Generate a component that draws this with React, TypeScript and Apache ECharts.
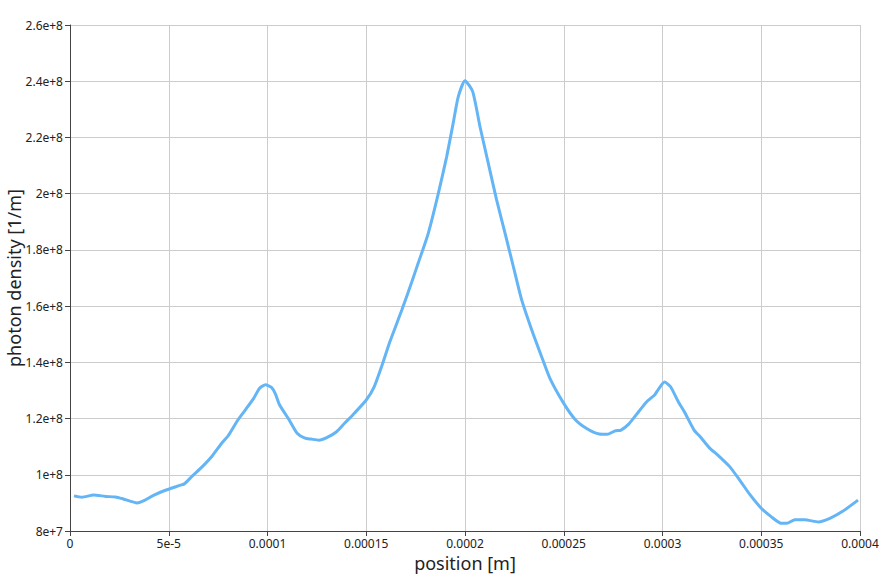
import React, { useEffect, useRef } from "react";
import * as echarts from "echarts";

// position along the sample, in micrometres (converted to metres below)
const positionsUm = [
  2, 6, 12, 18, 23, 27, 34, 38, 42, 48, 56, 58, 62, 67, 72, 77, 80, 85, 89, 93,
  96, 99, 102, 104, 106, 111, 115, 119, 122, 126, 130, 135, 139, 144, 150, 154,
  158, 162, 168, 173, 176.4, 181.4, 186.5, 190.7, 194, 196.6, 200, 203.9,
  207.6, 211.8, 216, 220.3, 224.5, 228.7, 233.8, 238.8, 243, 250, 256, 262, 268,
  272, 276, 279, 283, 288, 292, 296, 298, 301, 304, 308, 311, 316, 319, 324, 328,
  334, 339, 344, 350, 355, 360, 363, 367, 372, 379, 385, 391, 399,
];

// photon density in units of 1e6 1/m
const densityE6 = [
  92.5, 92.0, 92.8, 92.3, 92.1, 91.4, 90.0, 91.0, 92.6, 94.4, 96.3, 96.8, 99.6,
  102.9, 106.7, 111.4, 113.8, 119.5, 123.3, 127.2, 130.8, 132.0, 131.1, 128.8,
  125.0, 119.5, 114.8, 113.0, 112.7, 112.3, 113.2, 115.3, 118.3, 121.9, 126.6,
  131.3, 139.0, 147.4, 158.6, 168.5, 175.5, 185.9, 200.1, 213.1, 225.0,
  234.5, 240.2, 236.3, 223.8, 210.8, 197.8, 185.9, 174.0, 162.2, 151.5, 142.0,
  134.3, 125.4, 119.5, 116.3, 114.5, 114.4, 115.6, 115.9, 118.1, 122.5, 126.0,
  128.4, 130.5, 133.0, 131.4, 126.0, 122.5, 115.9, 113.6, 109.4, 107.0, 102.9,
  98.2, 93.2, 88.1, 85.1, 82.8, 82.8, 84.0, 84.0, 83.2, 84.6, 86.9, 91.0,
];

const xTickLabels = [
  "0", "5e-5", "0.0001", "0.00015", "0.0002", "0.00025", "0.0003", "0.00035", "0.0004",
];

const fontFamily = "'Noto Sans', sans-serif";

export default function App() {
  const chartRef = useRef<HTMLDivElement>(null);

  useEffect(() => {
    if (!chartRef.current) return;
    const chart = echarts.init(chartRef.current, undefined, { renderer: "svg" });

    const seriesData = positionsUm.map((p, i) => [p * 1e-6, densityE6[i] * 1e6]);

    chart.setOption({
      animation: false,
      grid: {
        left: 70,
        right: 28,
        top: 25,
        bottom: 45,
        containLabel: false,
        outerBoundsMode: "none",
      },
      xAxis: {
        type: "value",
        min: 0,
        max: 0.0004,
        interval: 0.00005,
        name: "position [m]",
        nameLocation: "middle",
        nameGap: 20,
        nameTextStyle: { fontFamily, fontSize: 18, color: "#222" },
        axisLine: { show: true, lineStyle: { color: "#444", width: 1 } },
        axisTick: { show: true, length: 5, lineStyle: { color: "#444" } },
        axisLabel: {
          fontFamily,
          fontSize: 12,
          color: "#222",
          margin: 6,
          formatter: (v: number) => xTickLabels[Math.round(v / 0.00005)] ?? "",
        },
        splitLine: { show: true, lineStyle: { color: "#cccccc", width: 1 } },
      },
      yAxis: {
        type: "value",
        min: 80000000,
        max: 260000000,
        interval: 20000000,
        name: "photon density [1/m]",
        nameLocation: "middle",
        nameGap: 46,
        nameMoveOverlap: false,
        nameTextStyle: { fontFamily, fontSize: 18, lineHeight: 20, color: "#222" },
        axisLine: { show: true, lineStyle: { color: "#444", width: 1 } },
        axisTick: { show: true, length: 5, lineStyle: { color: "#444" } },
        axisLabel: {
          fontFamily,
          fontSize: 12,
          color: "#222",
          margin: 7,
          formatter: (v: number) => v.toExponential(),
        },
        splitLine: { show: true, lineStyle: { color: "#cccccc", width: 1 } },
      },
      series: [
        {
          type: "line",
          data: seriesData,
          showSymbol: false,
          smooth: 0.2,
          lineStyle: { color: "#64b5f6", width: 3 },
          itemStyle: { color: "#64b5f6" },
        },
      ],
    });

    return () => {
      chart.dispose();
    };
  }, []);

  return (
    <div
      ref={chartRef}
      style={{ position: "fixed", left: 0, top: 0, width: 888, height: 576, background: "#fff" }}
    />
  );
}
